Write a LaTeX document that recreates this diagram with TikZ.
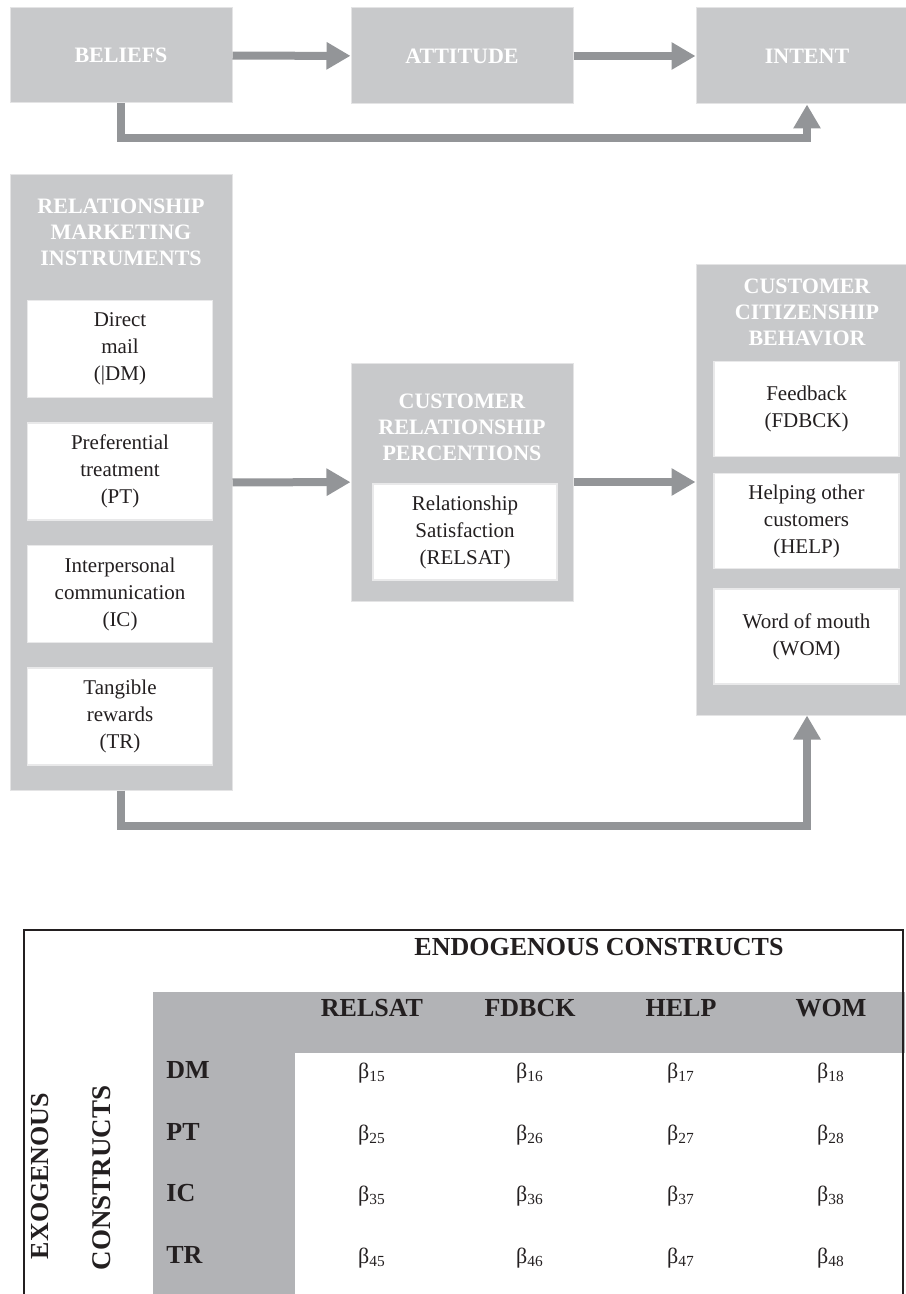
\documentclass[tikz,border=0pt]{standalone}
\usepackage{fontspec}
\setmainfont{Liberation Serif}
\usetikzlibrary{arrows.meta}
\definecolor{boxgray}{HTML}{C8C9CB}
\definecolor{arrowgray}{HTML}{939598}
\definecolor{tablegray}{HTML}{B2B3B6}
\definecolor{inkblack}{HTML}{231F20}

\begin{document}
\begin{tikzpicture}[x=0.5pt,y=-0.5pt,
    flow/.style={draw=arrowgray,line width=4pt,-{Triangle[length=12pt,width=13pt]}}]
    \tikzstyle{outer}=[rectangle,fill=boxgray,draw=boxgray!50!white,line width=0.5pt,inner sep=0pt]
    \tikzstyle{title}=[text=white,font=\fontsize{11}{13}\selectfont\bfseries,align=center,inner sep=0pt]
    \tikzstyle{item}=[rectangle,fill=white,draw=boxgray!40!white,line width=0.6pt,minimum width=92.5pt,minimum height=48.5pt,align=center,font=\fontsize{10.5}{13.5}\selectfont,text=inkblack,inner sep=0pt]
    \tikzstyle{tabhead}=[font=\fontsize{13}{15}\selectfont\bfseries,text=inkblack,inner sep=0pt]
    \tikzstyle{coef}=[font=\fontsize{11}{13}\selectfont,text=inkblack,inner sep=0pt]

    \useasboundingbox (0,0) rectangle (905,1294);

    % top row: beliefs, attitude, intent
    \node[outer,title,minimum width=111pt,minimum height=47.5pt] (BEL) at (121,55.5) {BELIEFS};
    \node[outer,title,minimum width=111pt,minimum height=48pt] (ATT) at (462,56) {ATTITUDE};
    \node[outer,title,minimum width=111pt,minimum height=48pt] (INT) at (807,56) {INTENT};

    \draw[flow] (BEL) -- (ATT);
    \draw[flow] (ATT) -- (INT);
    \draw[flow] (BEL.south) -- ++(0,35) -| (INT.south);

    % relationship marketing instruments
    \node[outer,minimum width=111pt,minimum height=307.5pt] (RMI) at (121,482.5) {};
    \node[title] (RMI-t) at (121,232) {RELATIONSHIP\\MARKETING\\INSTRUMENTS};
    \foreach \y/\txt [count=\i] in {349/{Direct\\mail\\(|DM)},
        471.5/{Preferential\\treatment\\(PT)},
        594/{Interpersonal\\communication\\(IC)},
        716.5/{Tangible\\rewards\\(TR)}}
    \node[item] (RMI-\i) at (120,\y) {\txt};

    % customer relationship perceptions
    \node[outer,minimum width=111pt,minimum height=119pt] (CRP) at (462,482) {};
    \node[title] (CRP-t) at (462,427) {CUSTOMER\\RELATIONSHIP\\PERCENTIONS};
    \node[item,minimum width=92pt,minimum height=48pt] (CRP-1) at (465,532) {Relationship\\Satisfaction\\(RELSAT)};

    % customer citizenship behavior
    \node[outer,minimum width=111pt,minimum height=225pt] (CCB) at (807,490) {};
    \node[title] (CCB-t) at (807,312) {CUSTOMER\\CITIZENSHIP\\BEHAVIOR};
    \foreach \y/\txt [count=\i] in {409/{Feedback\\(FDBCK)},
        521/{Helping other\\customers\\(HELP)},
        636.5/{Word of mouth\\(WOM)}}
    \node[item,minimum height=47.5pt] (CCB-\i) at (806.5,\y) {\txt};

    \draw[flow] (RMI) -- (CRP);
    \draw[flow] (CRP.east) -- (CRP.east -| CCB.west);
    \draw[flow] (RMI.south) -- ++(0,35) -| (CCB.south);

    % table of coefficients
    \fill[tablegray] (153,992) rectangle (905,1053);
    \fill[tablegray] (153,1053) rectangle (295,1300);
    \draw[line width=1pt,inkblack] (24,1300) -- (24,930) -- (903,930) -- (903,1300);

    \node[tabhead] (endo) at (599,947) {ENDOGENOUS CONSTRUCTS};
    \node[tabhead,rotate=90] (exo) at (40,1176) {EXOGENOUS};
    \node[tabhead,rotate=90,font=\fontsize{13.5}{15}\selectfont\bfseries] (cons) at (102,1178) {CONSTRUCTS};

    \foreach \x/\lab in {372/RELSAT,530/FDBCK,681/HELP,831/WOM}
    \node[tabhead] (col-\lab) at (\x,1008) {\lab};
    \foreach \y/\lab in {1070/DM,1132/PT,1193/IC,1255/TR}
    \node[tabhead,anchor=west] (row-\lab) at (166,\y) {\lab};

    \foreach \r/\y in {1/1073,2/1135,3/1196,4/1258}
    \foreach \c/\x in {5/372,6/530,7/681,8/831}
    \node[coef] (b-\r\c) at (\x,\y) {β\textsubscript{\r\c}};
\end{tikzpicture}
\end{document}
